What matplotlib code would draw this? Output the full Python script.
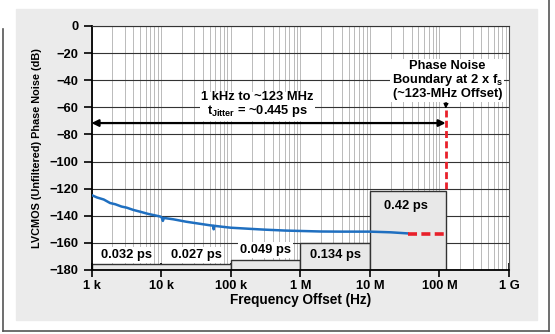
import matplotlib
matplotlib.use("Agg")
import matplotlib.pyplot as plt
from matplotlib.patches import Rectangle
from matplotlib.lines import Line2D

plt.rcParams["font.family"] = "Liberation Sans"
plt.rcParams["font.weight"] = "bold"
plt.rcParams["axes.labelweight"] = "bold"
plt.rcParams["mathtext.fontset"] = "custom"
plt.rcParams["mathtext.rm"] = "Liberation Sans:bold"
plt.rcParams["mathtext.it"] = "Liberation Sans:bold"
plt.rcParams["mathtext.bf"] = "Liberation Sans:bold"

FS = 9.3

# measured phase noise trace (offset Hz, dBc)
freq = [1.0e3, 1.2e3, 1.5e3, 1.85e3, 2.2e3, 2.7e3, 3.2e3, 4.0e3, 5.0e3, 6.5e3, 8.0e3,
        9.8e3, 1.02e4, 1.06e4, 1.1e4, 1.5e4, 2.3e4, 3.5e4, 5.0e4, 5.6e4, 5.7e4,
        5.8e4, 7.0e4, 1.0e5, 2.0e5, 3.0e5, 6.0e5, 1.0e6, 2.0e6, 4.0e6, 1.0e7,
        2.0e7, 3.5e7]
noise_db = [-124.7, -126.5, -128.0, -130.6, -131.5, -133.2, -134.0, -135.7, -137.0,
            -138.6, -139.6, -140.6, -141.2, -143.8, -141.6, -142.6, -144.4, -145.8,
            -147.0, -147.3, -150.0, -147.4, -147.9, -148.8, -149.7, -150.2, -150.9,
            -151.2, -151.6, -151.7, -151.7, -152.2, -153.0]

# integration bands: (start Hz, stop Hz, box top dB)
band_lo = [1e3, 1e5, 1e6, 1e7]
band_hi = [1e5, 1e6, 1e7, 123e6]
band_top = [-175.5, -172.5, -160.0, -122.0]

# per-decade jitter labels
jit_text = ["0.032 ps", "0.027 ps", "0.049 ps", "0.134 ps", "0.42 ps"]
jit_x = [3.2e3, 3.2e4, 3.2e5, 3.2e6, 3.3e7]
jit_y = [-169.0, -169.0, -165.0, -169.0, -133.0]

boundary_hz = 123e6
extrap_db = -153.3

xticks = [1e3, 1e4, 1e5, 1e6, 1e7, 1e8, 1e9]
xtick_labels = ["1 k", "10 k", "100 k", "1 M", "10 M", "100 M", "1 G"]
yticks = list(range(-180, 1, 20))

W, H = 555, 334
fig = plt.figure(figsize=(W / 100, H / 100), dpi=100)

# gray page panel and outer frame
fig.add_artist(Rectangle((16 / W, 1 - 320 / H), 521 / W, 311 / H,
                         transform=fig.transFigure, color="#ebebeb", zorder=-5))
frame_kw = dict(transform=fig.transFigure, color="#555555", lw=1.2, zorder=-4)
fig.add_artist(Line2D([3 / W, 3 / W], [1 - 29 / H, 1 - 331 / H], **frame_kw))
fig.add_artist(Line2D([3 / W, 548.5 / W], [1 - 331 / H, 1 - 331 / H], **frame_kw))
fig.add_artist(Line2D([548.5 / W, 548.5 / W], [1 - 331 / H, 1.0], **frame_kw))

ax = fig.add_axes([91.5 / W, 1 - 270 / H, (509 - 91.5) / W, (270 - 26) / H])
ax.set_zorder(1)
ax.set_facecolor("white")
ax.set_xscale("log")
ax.set_xlim(1e3, 1e9)
ax.set_ylim(-180, 0)

ax.set_xticks(xticks)
ax.set_xticklabels(xtick_labels)
ax.set_yticks(yticks)
ax.set_yticklabels([f"{v}".replace("-", "\u2212") for v in yticks])
ax.tick_params(axis="both", labelsize=FS, width=1.2, length=6, colors="black")
ax.tick_params(axis="x", which="major", direction="inout", length=10, pad=2)
ax.tick_params(axis="x", which="minor", length=0)

ax.grid(True, which="major", axis="y", color="#333333", lw=0.8)
ax.grid(True, which="both", axis="x", color="#b0b0b0", lw=0.6)
ax.set_axisbelow(True)

for side in ["left", "bottom"]:
    ax.spines[side].set_linewidth(1.3)
ax.spines["top"].set_color("#333333")
ax.spines["top"].set_linewidth(0.8)
ax.spines["right"].set_color("#555555")
ax.spines["right"].set_linewidth(0.8)

# integration band boxes
for lo, hi, top in zip(band_lo, band_hi, band_top):
    ax.add_patch(Rectangle((lo, -180), hi - lo, top + 180, facecolor="#e8e8e8",
                           edgecolor="#333333", lw=1.0, zorder=2))

for t, x, y in zip(jit_text, jit_x, jit_y):
    ax.text(x, y, t, ha="center", va="center", fontsize=FS, zorder=5,
            bbox=dict(facecolor="white" if y < -164 and x < 1e6 else "#e8e8e8",
                      edgecolor="none", pad=1.5))

ax.plot(freq, noise_db, color="#1f6fc0", lw=1.8, zorder=4)

# extrapolated floor and boundary
ax.plot([freq[-1], boundary_hz], [extrap_db, extrap_db], color="#e8202a", lw=2.6,
        ls=(0, (2.5, 1.2)), zorder=4)
ax.plot([boundary_hz, boundary_hz], [-62, band_top[-1]], color="#e8202a", lw=2.0,
        ls=(0, (2.5, 1.2)), zorder=4)

# integration range arrow
ax.annotate("", xy=(1e3, -71.6), xytext=(boundary_hz, -71.6),
            arrowprops=dict(arrowstyle="<|-|>", color="black", lw=1.6,
                            mutation_scale=10, shrinkA=0, shrinkB=0), zorder=5)
ax.text(2.45e5, -58.5, "1 kHz to ~123 MHz\n$t_{Jitter}$ = ~0.445 ps", ha="center",
        va="center", fontsize=FS, linespacing=1.0, zorder=5,
        bbox=dict(facecolor="white", edgecolor="none", pad=1.0))

ax.annotate("Phase Noise\nBoundary at 2 x $f_s$\n(~123-MHz Offset)",
            xy=(boundary_hz, -61), xytext=(1.3e8, -40), ha="center", va="center",
            fontsize=FS, linespacing=1.0, zorder=5,
            bbox=dict(facecolor="white", edgecolor="none", pad=1.0),
            arrowprops=dict(arrowstyle="-|>", color="black", lw=0.9,
                            mutation_scale=7, shrinkA=0, shrinkB=0))

ax.set_xlabel("Frequency Offset (Hz)", fontsize=9.8, labelpad=1)
ax.set_ylabel("LVCMOS (Unfiltered) Phase Noise (dB)", fontsize=7.8, labelpad=5)

fig.savefig("out.png", dpi=100)
